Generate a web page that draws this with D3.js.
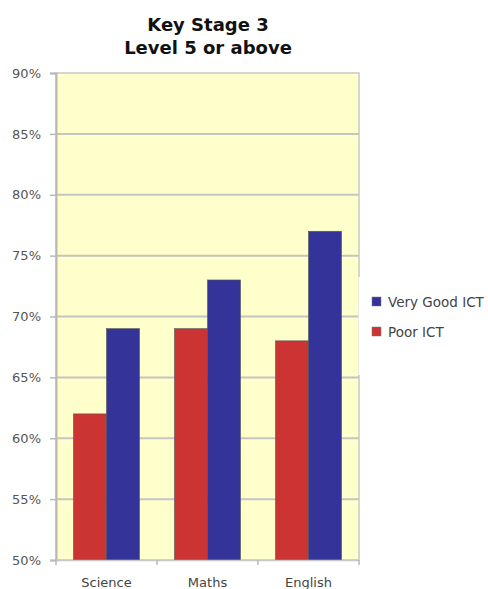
<!DOCTYPE html>
<html>
<head>
<meta charset="utf-8">
<script src="https://cdn.jsdelivr.net/npm/d3@7"></script>
<style>
body { margin: 0; background: #fff; }
text { font-family: "DejaVu Sans", Verdana, sans-serif; }
</style>
</head>
<body>
<svg id="chart"></svg>
<script>
const categories = ['Science', 'Maths', 'English'];
const seriesNames = ['Poor ICT', 'Very Good ICT'];
const poorICT = [62, 69, 68];
const veryGoodICT = [69, 73, 77];
const yTicks = [50, 55, 60, 65, 70, 75, 80, 85, 90];

const W = 488, H = 589;
const margin = {top: 73, right: 129, bottom: 29, left: 56};
const colors = {'Poor ICT': '#cc3333', 'Very Good ICT': '#333399'};

const svg = d3.select('#chart').attr('width', W).attr('height', H);

const x = d3.scaleBand()
	.domain(categories)
	.range([margin.left, W - margin.right]);

const xs = d3.scaleBand()
	.domain(seriesNames)
	.range([0, x.bandwidth()])
	.paddingOuter(0.53)
	.paddingInner(0);

const y = d3.scaleLinear()
	.domain([50, 90])
	.range([H - margin.bottom, margin.top]);

// plot background
svg.append('rect')
	.attr('x', margin.left)
	.attr('y', margin.top)
	.attr('width', W - margin.right - margin.left)
	.attr('height', y(50) - y(90))
	.attr('fill', '#ffffcc')
	.attr('stroke', '#c8c8c8')
	.attr('stroke-width', 1.5);

// gridlines
svg.append('g')
	.selectAll('line')
	.data(yTicks.slice(1, -1))
	.enter().append('line')
	.attr('x1', margin.left)
	.attr('x2', W - margin.right)
	.attr('y1', d => y(d))
	.attr('y2', d => y(d))
	.attr('stroke', '#c4c4c4')
	.attr('stroke-width', 2);

// y axis
const yAxis = svg.append('g')
	.attr('transform', `translate(${margin.left},0)`)
	.call(d3.axisLeft(y).tickValues(yTicks).tickSize(6).tickPadding(9).tickFormat(d => d + '%'));
yAxis.select('.domain').attr('stroke', '#b8b8b8').attr('stroke-width', 2);
yAxis.selectAll('.tick line').attr('stroke', '#b8b8b8').attr('stroke-width', 1.5);
yAxis.selectAll('text').attr('fill', '#555').attr('font-size', 13).attr('font-family', '"DejaVu Sans", Verdana, sans-serif');

// bars
const data = categories.map((c, i) => ({cat: c, 'Poor ICT': poorICT[i], 'Very Good ICT': veryGoodICT[i]}));
svg.append('g')
	.selectAll('g')
	.data(data)
	.enter().append('g')
	.attr('transform', d => `translate(${x(d.cat)},0)`)
	.selectAll('rect')
	.data(d => seriesNames.map(s => ({s: s, v: d[s]})))
	.enter().append('rect')
	.attr('x', d => xs(d.s))
	.attr('width', xs.bandwidth())
	.attr('y', d => y(d.v))
	.attr('height', d => y(50) - y(d.v))
	.attr('fill', d => colors[d.s])
	.attr('stroke', '#555')
	.attr('stroke-width', 0.6);

// x axis
const xAxis = svg.append('g')
	.attr('transform', `translate(0,${y(50)})`)
	.call(d3.axisBottom(x).tickSize(0).tickPadding(18));
xAxis.select('.domain').attr('stroke', '#c8c8c8').attr('stroke-width', 1.5);
xAxis.selectAll('text').attr('fill', '#444').attr('font-size', 13).attr('font-family', '"DejaVu Sans", Verdana, sans-serif');
svg.append('g')
	.selectAll('line')
	.data(categories.map(c => x(c)).concat([x.range()[1]]))
	.enter().append('line')
	.attr('x1', d => d).attr('x2', d => d)
	.attr('y1', y(50)).attr('y2', y(50) + 5)
	.attr('stroke', '#b8b8b8').attr('stroke-width', 1.5);

// legend
svg.append('rect')
	.attr('x', W - margin.right - 0.5)
	.attr('y', 277)
	.attr('width', margin.right)
	.attr('height', 98)
	.attr('fill', '#fff');
const legend = svg.append('g')
	.selectAll('g')
	.data(['Very Good ICT', 'Poor ICT'])
	.enter().append('g')
	.attr('transform', (d, i) => `translate(372,${297 + i * 30})`);
legend.append('rect')
	.attr('width', 9).attr('height', 9)
	.attr('fill', d => colors[d])
	.attr('stroke', '#777').attr('stroke-width', 0.5);
legend.append('text')
	.attr('x', 16).attr('y', 10)
	.attr('font-size', 13.5)
	.attr('fill', '#444')
	.text(d => d);

// title
const title = svg.append('text')
	.attr('text-anchor', 'middle')
	.attr('font-size', 18)
	.attr('font-weight', 'bold')
	.attr('fill', '#111');
title.append('tspan').attr('x', 208).attr('y', 31).text('Key Stage 3');
title.append('tspan').attr('x', 208).attr('y', 54).text('Level 5 or above');
</script>
</body>
</html>
